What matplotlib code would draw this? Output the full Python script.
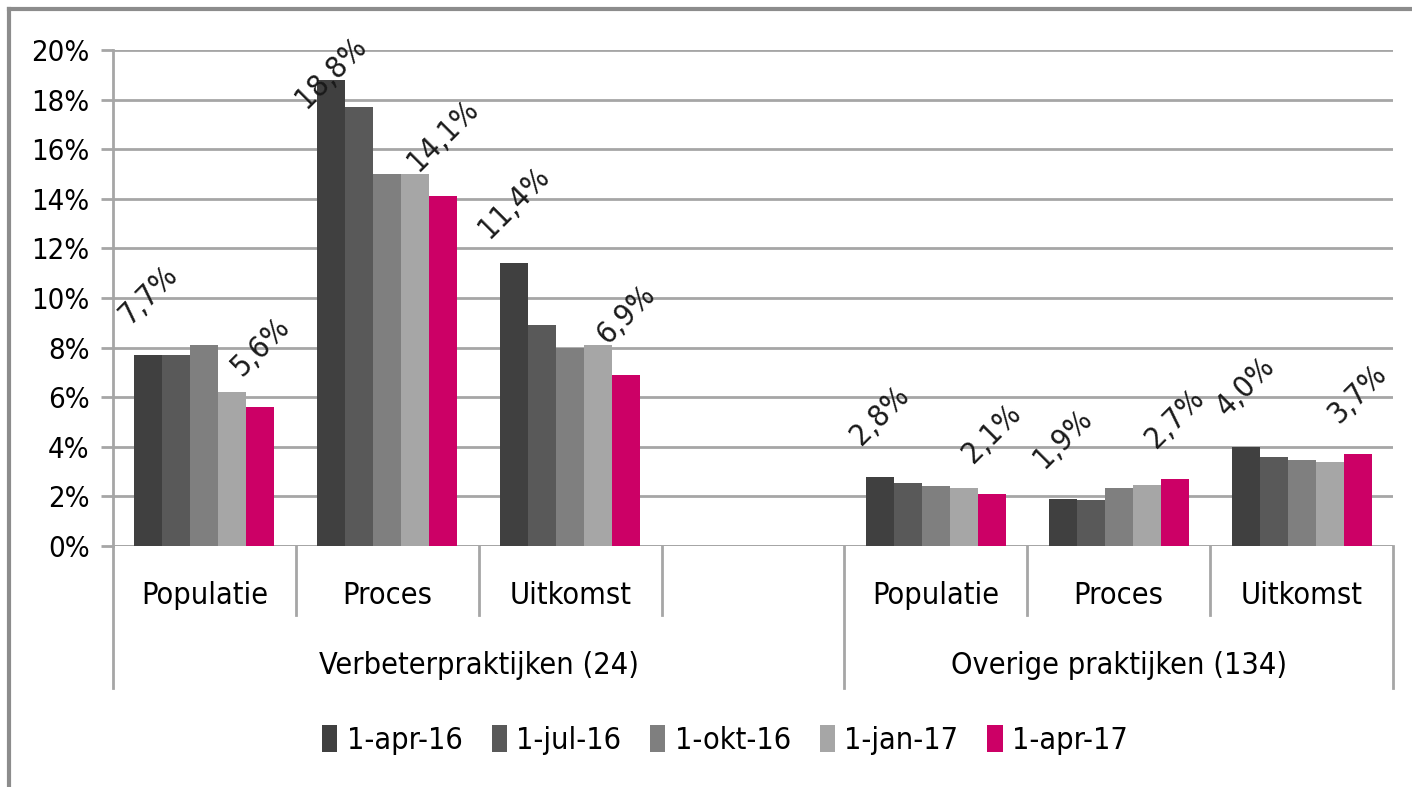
import matplotlib
matplotlib.use("Agg")
import matplotlib.pyplot as plt
from matplotlib.lines import Line2D
from matplotlib.patches import Patch
import matplotlib.transforms as mtransforms

plt.rcParams['font.family'] = ['DejaVu Sans']
plt.rcParams['font.stretch'] = 'condensed'

# ---- data ----
categories = ["Populatie", "Proces", "Uitkomst", "", "Populatie", "Proces", "Uitkomst"]
groups = ["Verbeterpraktijken (24)", "Overige praktijken (134)"]
group_sizes = [4, 3]
series_names = ["1-apr-16", "1-jul-16", "1-okt-16", "1-jan-17", "1-apr-17"]
apr16 = [7.7, 18.8, 11.4, None, 2.8, 1.9, 4.0]
jul16 = [7.7, 17.7, 8.9, None, 2.55, 1.85, 3.6]
okt16 = [8.1, 15.0, 8.0, None, 2.4, 2.35, 3.47]
jan17 = [6.2, 15.0, 8.1, None, 2.33, 2.47, 3.39]
apr17 = [5.6, 14.1, 6.9, None, 2.1, 2.7, 3.7]
series = [apr16, jul16, okt16, jan17, apr17]
labelled_series = [0, 4]
yticks = [0, 2, 4, 6, 8, 10, 12, 14, 16, 18, 20]

colors = ["#404040", "#595959", "#7f7f7f", "#a6a6a6", "#cc0066"]
grid_c = "#a6a6a6"
FS = 22

W, H = 1412, 787
fig = plt.figure(figsize=(W / 100, H / 100), dpi=100)
ax = fig.add_axes([113 / W, 1 - 546 / H, (1393 - 113) / W, (546 - 50) / H])

n = len(series)
bw = 0.153
for j, vals in enumerate(series):
    xs = [i + (j - (n - 1) / 2) * bw for i, v in enumerate(vals) if v is not None]
    ys = [v for v in vals if v is not None]
    ax.bar(xs, ys, width=bw, color=colors[j], edgecolor="none", zorder=3)
    if j in labelled_series:
        for x, v in zip(xs, ys):
            ly = min(v + 2.45, 19.1)
            ax.text(x, ly, f"{v:.1f}%".replace(".", ","), rotation=45,
                    ha="center", va="center", fontsize=FS, color="#1a1a1a", zorder=4)

ax.set_xlim(-0.5, len(categories) - 0.5)
ax.set_ylim(0, 20)
ax.set_yticks(yticks)
ax.set_yticklabels([f"{t}%" for t in yticks], fontsize=FS - 1)
ax.yaxis.grid(True, color=grid_c, linewidth=2, zorder=0)
ax.set_axisbelow(True)
ax.tick_params(axis="y", length=9, width=2, color=grid_c, pad=8)
ax.tick_params(axis="x", length=0, labelbottom=False)
for s in ["top", "right", "bottom"]:
    ax.spines[s].set_visible(False)
ax.spines["left"].set_color(grid_c)
ax.spines["left"].set_linewidth(2)
ax.axhline(0, color=grid_c, lw=2, zorder=2)

# category axis
trans = mtransforms.blended_transform_factory(ax.transData, fig.transFigure)
y0 = 1 - 546 / H
y_inner = 1 - 615 / H
y_outer = 1 - 688 / H
outer_bounds = [-0.5]
acc = -0.5
for g in group_sizes:
    acc += g
    outer_bounds.append(acc)
for k in range(len(categories) + 1):
    xb = k - 0.5
    yb = y_outer if xb in outer_bounds else y_inner
    fig.add_artist(Line2D([xb, xb], [y0, yb], transform=trans, color=grid_c, lw=2))
for i, c in enumerate(categories):
    fig.text(i, 1 - 595 / H, c, transform=trans, ha="center", va="center", fontsize=FS)
start = -0.5
for g, gs in zip(groups, group_sizes):
    fig.text(start + gs / 2, 1 - 665 / H, g, transform=trans, ha="center", va="center", fontsize=FS)
    start += gs

# legend
handles = [Patch(facecolor=c, edgecolor="none") for c in colors]
fig.legend(handles, series_names, loc="center", bbox_to_anchor=(725 / W, 1 - 740 / H),
           ncol=5, frameon=False, fontsize=FS, handlelength=0.5, handleheight=1.0,
           handletextpad=0.3, columnspacing=0.95)

# outer frame
fig.add_artist(Line2D([9 / W, 9 / W], [0, 1 - 9 / H], transform=fig.transFigure, color="#8c8c8c", lw=3))
fig.add_artist(Line2D([9 / W, 1], [1 - 9 / H, 1 - 9 / H], transform=fig.transFigure, color="#8c8c8c", lw=3))

fig.savefig("out.png", dpi=100, facecolor="white")
